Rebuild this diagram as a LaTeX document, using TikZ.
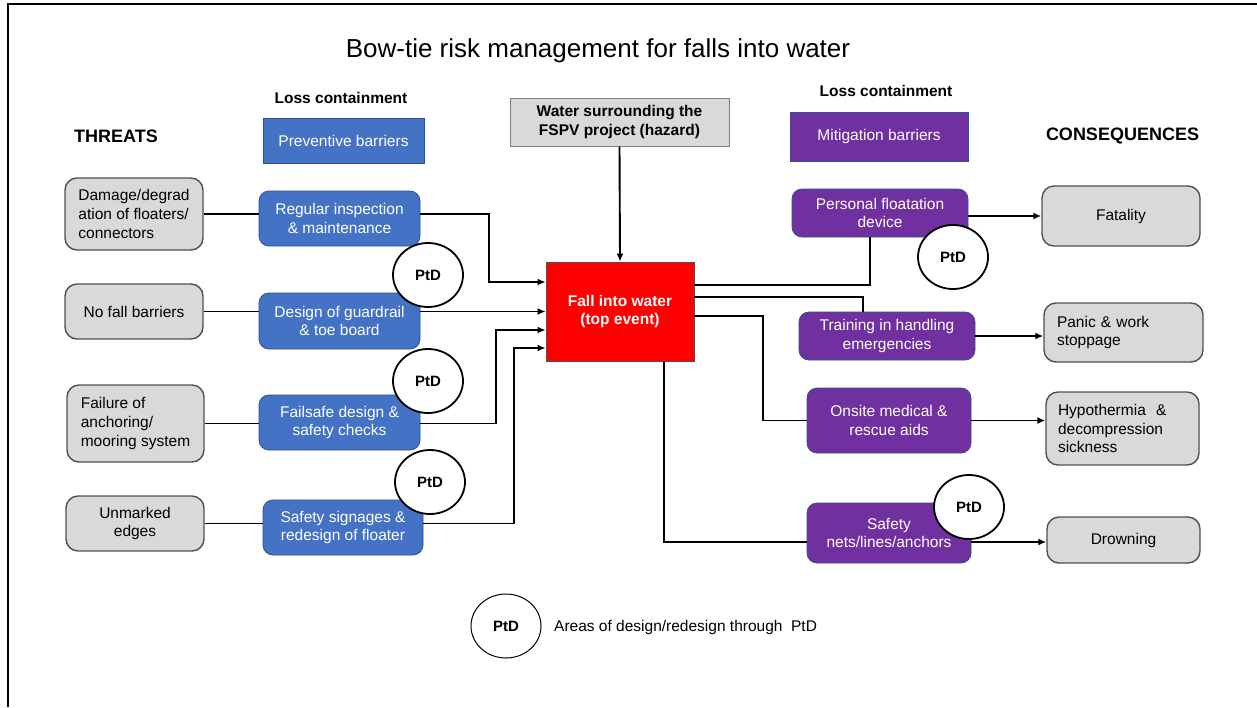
\documentclass[tikz,border=0pt]{standalone}
\usepackage{fontspec}
\setmainfont{Liberation Sans}
\usetikzlibrary{arrows.meta,shapes.geometric}
\definecolor{pblue}{HTML}{4472C4}
\definecolor{pblueedge}{HTML}{2F528F}
\definecolor{ppurple}{HTML}{7030A0}
\definecolor{pgray}{HTML}{D9D9D9}
\definecolor{pgrayedge}{HTML}{505050}
\definecolor{pred}{HTML}{FF0000}
\begin{document}
\begin{tikzpicture}[x=1pt,y=-1pt,
 base/.style={font=\fontsize{15.5}{18.6}\selectfont, inner sep=0pt},
 bbase/.style={font=\fontsize{15.5}{18.6}\selectfont\bfseries, inner sep=0pt},
 threat/.style={base, draw=pgrayedge, line width=1.4pt, fill=pgray, rounded corners=12pt},
 prev/.style={base, draw=pblueedge, line width=0.8pt, fill=pblue, text=white, rounded corners=10pt, align=center},
 miti/.style={base, draw=pblueedge, line width=0.8pt, fill=ppurple, text=white, rounded corners=10pt, align=center},
 ptd/.style={ellipse, draw=black, line width=1.8pt, fill=white, minimum width=70pt, minimum height=64pt, inner sep=0pt, font=\fontsize{15}{18}\selectfont\bfseries},
 conn/.style={line width=1.9pt, draw=black},
 arr/.style={conn, -{Latex[length=8pt,width=7pt]}},
 head/.style={font=\fontsize{18}{21}\selectfont\bfseries, inner sep=0pt},
 sub/.style={font=\fontsize{15.5}{18}\selectfont\bfseries, inner sep=0pt}
]
\useasboundingbox (0,0) rectangle (1257,707);
\fill[white] (0,0) rectangle (1257,707);
\draw[line width=2pt] (8,707) -- (8,4) -- (1257,4);

% headings
\node[font=\fontsize{26}{30}\selectfont, inner sep=0pt] (title) at (598,51) {Bow-tie risk management for falls into water};
\node[head] (threats) at (116,136) {THREATS};
\node[sub] (lcl) at (341,98) {Loss containment};
\node[base, draw=pblueedge, line width=0.8pt, fill=pblue, text=white, minimum width=161pt, minimum height=45pt] (prevh) at (343.5,140.5) {Preventive barriers};
\node[bbase, draw=gray, line width=1pt, fill=pgray, align=center, minimum width=219pt, minimum height=48pt] (haz) at (619.5,122) {Water surrounding the\\FSPV project (hazard)};
\node[sub] (lcr) at (886,91) {Loss containment};
\node[base, draw=pblueedge, line width=0.8pt, fill=ppurple, text=white, minimum width=178pt, minimum height=49pt] (mith) at (879,136.5) {Mitigation barriers};
\node[head] (cons) at (1122.5,136) {CONSEQUENCES};

% threats
\node[threat, align=left, minimum width=138pt, minimum height=72pt] (t1) at (134,214) {Damage/degrad\\ation of floaters/\\connectors};
\node[threat, align=center, minimum width=138pt, minimum height=55pt] (t2) at (134,311.5) {No fall barriers};
\node[threat, align=left, minimum width=137pt, minimum height=77pt] (t3) at (135.5,423.5) {Failure of\\anchoring/\\mooring system};
\node[threat, align=center, minimum width=138pt, minimum height=55pt] (t4) at (135,523.5) {Unmarked\\edges};

% preventive barriers
\node[prev, minimum width=161pt, minimum height=55pt] (b1) at (339.5,218.5) {Regular inspection\\\& maintenance};
\node[prev, minimum width=161pt, minimum height=56pt] (b2) at (339.5,321) {Design of guardrail\\\& toe board};
\node[prev, minimum width=161pt, minimum height=55pt] (b3) at (339.5,422.5) {Failsafe design \&\\safety checks};
\node[prev, minimum width=160pt, minimum height=55pt] (b4) at (343,527.5) {Safety signages \&\\redesign of floater};

% top event
\node[bbase, draw=pgrayedge, line width=0.8pt, fill=pred, text=white, align=center, minimum width=148pt, minimum height=99pt] (top) at (620,311.5) {Fall into water\\(top event)};

% mitigation barriers
\node[miti, minimum width=176pt, minimum height=48pt] (m1) at (880,213) {Personal floatation\\device};
\node[miti, minimum width=176pt, minimum height=48pt] (m2) at (887,336) {Training in handling\\emergencies};
\node[miti, minimum width=164pt, minimum height=65pt] (m3) at (889,420.5) {Onsite medical \&\\rescue aids};
\node[miti, minimum width=164pt, minimum height=60pt] (m4) at (889,533) {Safety\\nets/lines/anchors};

% consequences
\node[threat, align=center, minimum width=158pt, minimum height=60pt] (fat) at (1121,216) {Fatality};
\node[threat, align=left, text width=133pt, inner xsep=13pt, minimum height=59pt] (pan) at (1123.5,332.5) {Panic \& work\\stoppage};
\node[threat, align=left, text width=129pt, inner xsep=12pt, minimum height=73pt] (hyp) at (1122.5,428.5) {Hypothermia\ \ \&\\decompression\\sickness};
\node[threat, align=center, minimum width=153pt, minimum height=46pt] (dr) at (1123.5,540) {Drowning};

% left connectors
\draw[conn] (t1.east) -- (t1.east -| b1.west);
\draw[arr] (t1.east -| b1.east) -- ++(69,0) |- ([yshift=29.5pt]top.west);
\draw[conn] (t2.east) -- (t2.east -| b2.west);
\draw[arr] (t2.east -| b2.east) -- (t2.east -| top.west);
\draw[conn] (t3.east) -- (t3.east -| b3.west);
\draw[arr] (t3.east -| b3.east) -- ++(76,0) |- ([yshift=-18.5pt]top.west);
\draw[conn] (t4.east) -- (t4.east -| b4.west);
\draw[arr] (t4.east -| b4.east) -- ++(91,0) |- ([yshift=-36.5pt]top.west);
\draw[arr] (haz.south) -- (top.north);

% right connectors
\draw[conn] ([yshift=26.5pt]top.east) -| ([xshift=-10pt]m1.south);
\draw[conn] ([yshift=14.5pt]top.east) -| ([xshift=-24pt]m2.north);
\draw[conn] ([yshift=-4.5pt]top.east) -- ++(69,0) |- (m3.west);
\draw[conn] ([xshift=44pt]top.south) |- ([yshift=-9pt]m4.west);
\draw[arr] (m1.east |- fat.west) -- (fat.west);
\draw[arr] (m2.east) -- (m2.east -| pan.west);
\draw[arr] (m3.east) -- (m3.east -| hyp.west);
\draw[arr] ([yshift=-9pt]m4.east) -- ([yshift=-9pt]m4.east -| dr.west);

% PtD markers
\node[ptd] (p1) at (428,275) {PtD};
\node[ptd] (p2) at (428,381) {PtD};
\node[ptd] (p3) at (430,482) {PtD};
\node[ptd] (p4) at (953,257) {PtD};
\node[ptd] (p5) at (969,507) {PtD};

% legend
\node[ptd, line width=1pt] (pl) at (506,626) {PtD};
\node[base, anchor=west] (legt) at (554,627) {Areas of design/redesign through\ \ PtD};
\end{tikzpicture}
\end{document}
